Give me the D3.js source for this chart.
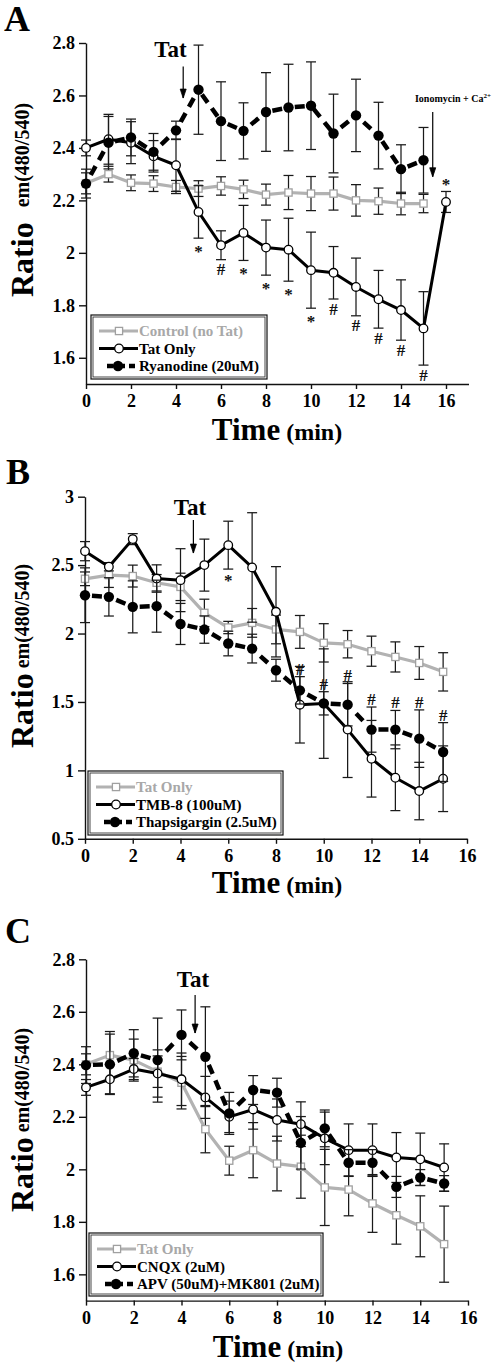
<!DOCTYPE html>
<html><head><meta charset="utf-8">
<script src="https://cdn.jsdelivr.net/npm/d3@7/dist/d3.min.js"></script>
<style>body{margin:0;background:#fff}svg{display:block}</style>
</head><body>
<svg id="chart" width="494" height="1364"></svg>
<script>
// ---------- DATA ----------
const xTicks = [0, 2, 4, 6, 8, 10, 12, 14, 16];
const xTickLabels = ["0", "2", "4", "6", "8", "10", "12", "14", "16"];
const yTicksAC = [1.6, 1.8, 2.0, 2.2, 2.4, 2.6, 2.8];
const yTickLabelsAC = ["1.6", "1.8", "2", "2.2", "2.4", "2.6", "2.8"];
const yTicksB = [0.5, 1, 1.5, 2, 2.5, 3];
const yTickLabelsB = ["0.5", "1", "1.5", "2", "2.5", "3"];

// Panel A
const timeA16 = [0,1,2,3,4,5,6,7,8,9,10,11,12,13,14,15,16];
const timeA15 = [0,1,2,3,4,5,6,7,8,9,10,11,12,13,14,15];
const controlA = [2.265, 2.30, 2.267, 2.264, 2.251, 2.245, 2.255, 2.242, 2.222, 2.23, 2.226, 2.226, 2.20, 2.197, 2.188, 2.188];
const controlAErr = [0.04, 0.03, 0.03, 0.03, 0.025, 0.03, 0.035, 0.035, 0.04, 0.065, 0.065, 0.063, 0.06, 0.05, 0.043, 0.035];
const tatA = [2.40, 2.433, 2.42, 2.368, 2.334, 2.156, 2.029, 2.076, 2.02, 2.012, 1.934, 1.924, 1.87, 1.823, 1.782, 1.712, 2.194];
const tatAErr = [0.03, 0.095, 0.08, 0.06, 0.1, 0.1, 0.055, 0.105, 0.105, 0.12, 0.145, 0.10, 0.11, 0.11, 0.115, 0.14, 0.04];
const ryanA = [2.264, 2.42, 2.44, 2.385, 2.467, 2.622, 2.502, 2.465, 2.537, 2.554, 2.561, 2.455, 2.524, 2.447, 2.319, 2.353];
const ryanAErr = [0.055, 0.1, 0.07, 0.07, 0.035, 0.17, 0.15, 0.107, 0.15, 0.165, 0.167, 0.15, 0.138, 0.127, 0.093, 0.125];
const legendA = ["Control (no Tat)", "Tat Only", "Ryanodine (20uM)"];
const sigTimesA = [5, 6, 7, 8, 9, 10, 11, 12, 13, 14, 15, 16];
const sigMarksA = ["*", "#", "*", "*", "*", "*", "#", "#", "#", "#", "#", "*"];

// Panel B
const timeB = [0,1,2,3,4,5,6,7,8,9,10,11,12,13,14,15];
const tatB = [2.40, 2.427, 2.42, 2.371, 2.341, 2.151, 2.044, 2.078, 2.03, 2.012, 1.932, 1.922, 1.871, 1.829, 1.785, 1.72];
const tatBErr = [0.05, 0.09, 0.08, 0.06, 0.1, 0.1, 0.045, 0.105, 0.105, 0.12, 0.14, 0.10, 0.11, 0.11, 0.12, 0.14];
const tmbB = [2.602, 2.488, 2.69, 2.402, 2.39, 2.5, 2.646, 2.483, 2.159, 1.48, 1.488, 1.298, 1.085, 0.946, 0.849, 0.939];
const tmbBErr = [0.07, 0.03, 0.04, 0.1, 0.23, 0.19, 0.175, 0.4, 0.33, 0.28, 0.4, 0.35, 0.28, 0.24, 0.21, 0.24];
const thapsB = [2.28, 2.268, 2.195, 2.2, 2.07, 2.029, 1.927, 1.89, 1.732, 1.585, 1.49, 1.48, 1.298, 1.298, 1.232, 1.134];
const thapsBErr = [0.2, 0.14, 0.19, 0.19, 0.15, 0.1, 0.09, 0.105, 0.08, 0.1, 0.085, 0.155, 0.165, 0.14, 0.21, 0.215];
const legendB = ["Tat Only", "TMB-8 (100uM)", "Thapsigargin (2.5uM)"];
const sigTimesB = [6, 9, 10, 11, 12, 13, 14, 15];
const sigMarksB = ["*", "#", "#", "#", "#", "#", "#", "#"];

// Panel C
const timeC = [0,1,2,3,4,5,6,7,8,9,10,11,12,13,14,15];
const tatC = [2.40, 2.435, 2.416, 2.372, 2.33, 2.153, 2.033, 2.073, 2.022, 2.01, 1.931, 1.923, 1.87, 1.825, 1.783, 1.715];
const tatCErr = [0.04, 0.09, 0.08, 0.06, 0.1, 0.09, 0.055, 0.105, 0.104, 0.12, 0.145, 0.10, 0.11, 0.11, 0.116, 0.145];
const cnqxC = [2.312, 2.343, 2.382, 2.365, 2.343, 2.274, 2.2, 2.228, 2.188, 2.172, 2.118, 2.073, 2.073, 2.045, 2.038, 2.007];
const cnqxCErr = [0.03, 0.055, 0.04, 0.09, 0.1, 0.08, 0.06, 0.075, 0.08, 0.085, 0.1, 0.1, 0.1, 0.095, 0.1, 0.09];
const apvC = [2.397, 2.40, 2.442, 2.416, 2.512, 2.429, 2.213, 2.302, 2.292, 2.101, 2.156, 2.025, 2.025, 1.933, 1.969, 1.946];
const apvCErr = [0.07, 0.115, 0.09, 0.16, 0.095, 0.19, 0.08, 0.055, 0.055, 0.1, 0.07, 0.05, 0.05, 0.04, 0.03, 0.03];
const legendC = ["Tat Only", "CNQX (2uM)", "APV (50uM)+MK801 (2uM)"];

// annotation anchors (data units)
const tatArrowA = {x: 4.32, y0: 2.71, y1: 2.59, tx: 3.75, ty: 2.747};
const tatArrowB = {x: 4.54, y0: 2.83, y1: 2.588, tx: 4.4, ty: 2.866};
const tatArrowC = {x: 4.57, y0: 2.664, y1: 2.519, tx: 4.48, ty: 2.696};
const ionoArrowA = {x: 15.41, y0: 2.537, y1: 2.29, tx: 14.62, ty: 2.576};

// ---------- DRAWING ----------
const FONT = '"Liberation Serif","Times New Roman",Times,serif';
const GRAY = "#b2b2b2";
const svg = d3.select("#chart");

function T(sel) { return sel.attr("font-family", FONT).attr("font-weight", "bold"); }

function dashedSegments(g, pts, w) {
  const d = 10, s = 7;
  for (let i = 0; i < pts.length - 1; i++) {
    const [x1, y1] = pts[i], [x2, y2] = pts[i + 1];
    const L = Math.hypot(x2 - x1, y2 - y1);
    const n = Math.max(1, Math.floor((L - 8 + s) / (d + s)));
    const used = n * d + (n - 1) * s;
    const g0 = Math.max(0, (L - used) / 2);
    const arr = [0, g0];
    for (let k = 0; k < n; k++) { arr.push(d); if (k < n - 1) arr.push(s); }
    arr.push(L + 10);
    g.append("line").attr("x1", x1).attr("y1", y1).attr("x2", x2).attr("y2", y2)
      .attr("stroke", "#000").attr("stroke-width", w).attr("stroke-dasharray", arr.join(","));
  }
}

function drawSeries(g, x, y, t, m, e, style) {
  const eb = g.append("g").attr("stroke", "#1a1a1a").attr("stroke-width", 1.25);
  t.forEach((tv, i) => {
    const cx = x(tv), lo = y(m[i] - e[i]), hi = y(m[i] + e[i]);
    eb.append("line").attr("x1", cx).attr("x2", cx).attr("y1", lo).attr("y2", hi);
    eb.append("line").attr("x1", cx - 5).attr("x2", cx + 5).attr("y1", lo).attr("y2", lo);
    eb.append("line").attr("x1", cx - 5).attr("x2", cx + 5).attr("y1", hi).attr("y2", hi);
  });
  const pts = t.map((tv, i) => [x(tv), y(m[i])]);
  if (style === "dash") {
    dashedSegments(g, pts, 4.5);
  } else {
    g.append("path").attr("d", d3.line()(pts)).attr("fill", "none")
      .attr("stroke", style === "gray" ? GRAY : "#000")
      .attr("stroke-width", style === "gray" ? 3.2 : 3).attr("stroke-linejoin", "round");
  }
  pts.forEach(p => drawMarker(g, p[0], p[1], style));
}

function drawMarker(g, cx, cy, style) {
  if (style === "gray") {
    g.append("rect").attr("x", cx - 3.6).attr("y", cy - 3.6).attr("width", 7.2).attr("height", 7.2)
      .attr("fill", "#fff").attr("stroke", "#a0a0a0").attr("stroke-width", 1.3);
  } else if (style === "open") {
    g.append("circle").attr("cx", cx).attr("cy", cy).attr("r", 4.3)
      .attr("fill", "#fff").attr("stroke", "#000").attr("stroke-width", 1.3);
  } else {
    g.append("circle").attr("cx", cx).attr("cy", cy).attr("r", 5.2).attr("fill", "#000");
  }
}

function drawArrow(g, x, y, a) {
  const ax = x(a.x), y0 = y(a.y0), y1 = y(a.y1);
  g.append("line").attr("x1", ax).attr("x2", ax).attr("y1", y0).attr("y2", y1)
    .attr("stroke", "#000").attr("stroke-width", 1.2);
  g.append("path").attr("d", `M${ax - 3},${y1 - 9}L${ax},${y1}L${ax + 3},${y1 - 9}Z`)
    .attr("fill", "#000").attr("stroke", "#000").attr("stroke-width", 0.8);
}

function drawPanel(p) {
  const x = d3.scaleLinear().domain(p.xDomain).range(p.xRange);
  const y = d3.scaleLinear().domain(p.yDomain).range(p.yRange);
  const g = svg.append("g");

  const ya = g.append("g").attr("transform", `translate(${p.xRange[0]},0)`)
    .call(d3.axisLeft(y).tickValues(p.yTicks).tickFormat((d, i) => p.yTickLabels[i])
      .tickSize(7).tickPadding(4).tickSizeOuter(0));
  const xa = g.append("g").attr("transform", `translate(0,${p.yRange[0]})`)
    .call(d3.axisBottom(x).tickValues(xTicks).tickFormat((d, i) => xTickLabels[i])
      .tickSize(5).tickPadding(5.5).tickSizeOuter(0));
  [ya, xa].forEach(a => {
    a.selectAll("path,line").attr("stroke", "#111").attr("stroke-width", 1.4);
    T(a.selectAll("text")).attr("font-size", 18).attr("fill", "#000");
  });

  p.series.forEach(s => drawSeries(g.append("g"), x, y, s.t, s.m, s.e, s.style));

  // significance marks
  if (p.sig) {
    p.sig.times.forEach((tv, i) => {
      const mk = p.sig.marks[i];
      const rule = p.sig.rule(tv, mk);
      const ser = rule.series, idx = ser.t.indexOf(tv);
      let yy;
      if (rule.side === "below") {
        const cap = y(ser.m[idx] - ser.e[idx]);
        yy = cap + (mk === "*" ? rule.offStar : 15.5);
      } else {
        const cap = y(ser.m[idx] + ser.e[idx]);
        yy = cap - (mk === "*" ? 1.5 : 2);
      }
      T(g.append("text")).attr("x", x(tv)).attr("y", yy).attr("text-anchor", "middle")
        .attr("font-size", 17).attr("fill", "#111").text(mk);
    });
  }

  // Tat arrow
  drawArrow(g, x, y, p.tatArrow);
  T(g.append("text")).attr("x", x(p.tatArrow.tx)).attr("y", y(p.tatArrow.ty))
    .attr("text-anchor", "middle").attr("font-size", 23).text("Tat");

  if (p.iono) {
    drawArrow(g, x, y, p.iono);
    const t = T(g.append("text")).attr("x", x(p.iono.tx)).attr("y", y(p.iono.ty)).attr("font-size", 10)
      .attr("text-anchor", "start");
    t.append("tspan").text("Ionomycin + Ca");
    t.append("tspan").attr("font-size", 7).attr("dy", -4).text("2+");
  }

  // legend
  const lb = p.legendBox;
  g.append("rect").attr("x", lb[0]).attr("y", lb[1]).attr("width", lb[2]).attr("height", lb[3])
    .attr("fill", "#fff").attr("stroke", "#111").attr("stroke-width", 1.2);
  g.append("rect").attr("x", lb[0] + 2).attr("y", lb[1] + 2).attr("width", lb[2] - 4).attr("height", lb[3] - 4)
    .attr("fill", "none").attr("stroke", "#333").attr("stroke-width", 0.9);
  const styles = ["gray", "open", "dash"];
  const rowOff = [16, 33.5, 51];
  p.legend.forEach((lab, i) => {
    const ry = lb[1] + rowOff[i], lx = lb[0];
    const st = styles[i];
    if (st === "dash") {
      g.append("line").attr("x1", lx + 16).attr("x2", lx + 44).attr("y1", ry).attr("y2", ry)
        .attr("stroke", "#000").attr("stroke-width", 4.5).attr("stroke-dasharray", "6,4,8,4,12");
      drawMarker(g, lx + 27, ry, st);
    } else {
      g.append("line").attr("x1", lx + 8).attr("x2", lx + 47).attr("y1", ry).attr("y2", ry)
        .attr("stroke", st === "gray" ? GRAY : "#000").attr("stroke-width", 3);
      drawMarker(g, lx + 28, ry, st);
    }
    T(g.append("text")).attr("x", lx + 48).attr("y", ry + 5).attr("font-size", 15)
      .attr("fill", st === "gray" ? "#a8a8a8" : "#000").text(lab);
  });

  // axis titles
  const xt = T(g.append("text")).attr("x", p.xTitle[0]).attr("y", p.xTitle[1]).attr("text-anchor", "middle");
  xt.append("tspan").attr("font-size", 31).text("Time");
  xt.append("tspan").attr("font-size", 24).text(" (min)");

  const yt = T(g.append("text")).attr("transform", `translate(${p.yTitle[0]},${p.yTitle[1]}) rotate(-90)`)
    .attr("text-anchor", "start");
  yt.append("tspan").attr("font-size", 32).text("Ratio");
  yt.append("tspan").attr("font-size", 20).attr("dx", p.yTitle[2]).attr("dy", -4).text(" em(480/540)");

  // panel letter
  T(g.append("text")).attr("x", p.letterPos[0]).attr("y", p.letterPos[1]).attr("font-size", 36).text(p.letter);
}

const serA = {
  control: {t: timeA15, m: controlA, e: controlAErr, style: "gray"},
  tat: {t: timeA16, m: tatA, e: tatAErr, style: "open"},
  ryan: {t: timeA15, m: ryanA, e: ryanAErr, style: "dash"}
};
drawPanel({
  letter: "A", letterPos: [4, 31],
  xDomain: [0, 17], xRange: [86, 468.5], yDomain: [1.5, 2.8], yRange: [384, 43],
  yTicks: yTicksAC, yTickLabels: yTickLabelsAC,
  series: [serA.control, serA.tat, serA.ryan],
  sig: {times: sigTimesA, marks: sigMarksA,
        rule: (tv) => tv === 16 ? {series: serA.tat, side: "above"} : {series: serA.tat, side: "below", offStar: 19}},
  tatArrow: tatArrowA, iono: ionoArrowA,
  legend: legendA, legendBox: [91, 315, 176, 64],
  xTitle: [277, 440], yTitle: [33, 297, 10]
});

const serB = {
  tat: {t: timeB, m: tatB, e: tatBErr, style: "gray"},
  tmb: {t: timeB, m: tmbB, e: tmbBErr, style: "open"},
  thaps: {t: timeB, m: thapsB, e: thapsBErr, style: "dash"}
};
drawPanel({
  letter: "B", letterPos: [6, 484],
  xDomain: [0, 16], xRange: [85, 467], yDomain: [0.5, 3], yRange: [838.8, 496.7],
  yTicks: yTicksB, yTickLabels: yTickLabelsB,
  series: [serB.tat, serB.tmb, serB.thaps],
  sig: {times: sigTimesB, marks: sigMarksB,
        rule: (tv, mk) => mk === "*" ? {series: serB.tmb, side: "below", offStar: 17} : {series: serB.thaps, side: "above"}},
  tatArrow: tatArrowB,
  legend: legendB, legendBox: [88, 771, 195, 64],
  xTitle: [277, 893], yTitle: [33, 748, 0]
});

const serC = {
  tat: {t: timeC, m: tatC, e: tatCErr, style: "gray"},
  cnqx: {t: timeC, m: cnqxC, e: cnqxCErr, style: "open"},
  apv: {t: timeC, m: apvC, e: apvCErr, style: "dash"}
};
drawPanel({
  letter: "C", letterPos: [5, 943],
  xDomain: [0, 16], xRange: [86, 468], yDomain: [1.5, 2.8], yRange: [1300.6, 959.3],
  yTicks: yTicksAC, yTickLabels: yTickLabelsAC,
  series: [serC.tat, serC.cnqx, serC.apv],
  tatArrow: tatArrowC,
  legend: legendC, legendBox: [89, 1233, 234, 63],
  xTitle: [278, 1357], yTitle: [33, 1212, 0]
});
</script>
</body></html>
